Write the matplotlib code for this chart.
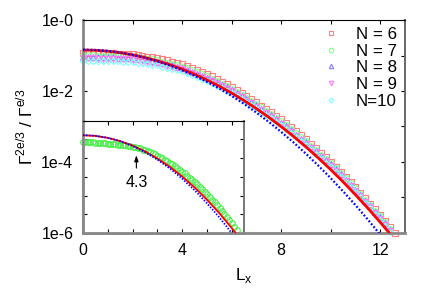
import numpy as np
import matplotlib
matplotlib.use('Agg')
import matplotlib.pyplot as plt
from matplotlib.ticker import FixedLocator, NullFormatter

plt.rcParams['font.family'] = ['Liberation Sans', 'DejaVu Sans']
plt.rcParams['mathtext.fontset'] = 'custom'
plt.rcParams['mathtext.rm'] = 'Liberation Sans'

# log10 of Gamma^{2e/3}/Gamma^{e/3}, markers every 0.2 in L_x
n6_log = [-0.92, -0.92, -0.92, -0.93, -0.93, -0.93, -0.94, -0.95, -0.95, -0.96,
          -0.97, -0.99, -1.01, -1.03, -1.05, -1.07, -1.11, -1.14, -1.18, -1.21,
          -1.25, -1.30, -1.36, -1.41, -1.47, -1.52, -1.59, -1.66, -1.74, -1.81,
          -1.88, -1.97, -2.05, -2.14, -2.22, -2.31, -2.41, -2.51, -2.60, -2.70,
          -2.80, -2.91, -3.02, -3.14, -3.25, -3.36, -3.49, -3.61, -3.74, -3.86,
          -3.99, -4.13, -4.27, -4.42, -4.56, -4.70, -4.86, -5.02, -5.17, -5.33,
          -5.49, -5.66, -5.84, -5.99]
n7_log = [-0.99, -0.99, -0.99, -1.00, -1.00, -1.00, -1.01, -1.02, -1.02, -1.03,
          -1.04, -1.05, -1.07, -1.09, -1.11, -1.13, -1.17, -1.20, -1.24, -1.27,
          -1.31, -1.36, -1.42, -1.47, -1.53, -1.58, -1.65, -1.72, -1.80, -1.87,
          -1.94, -2.02, -2.10, -2.19, -2.27, -2.36, -2.46, -2.56, -2.65, -2.75,
          -2.85, -2.96, -3.07, -3.19, -3.30, -3.41, -3.54, -3.66, -3.79, -3.91,
          -4.03, -4.17, -4.31, -4.46, -4.60, -4.74, -4.90, -5.06, -5.21, -5.37,
          -5.53, -5.70, -5.88]
n8_log = [-1.03, -1.03, -1.03, -1.04, -1.04, -1.04, -1.05, -1.06, -1.06, -1.07,
          -1.07, -1.09, -1.11, -1.13, -1.15, -1.17, -1.21, -1.24, -1.28, -1.31,
          -1.35, -1.40, -1.46, -1.51, -1.57, -1.62, -1.69, -1.76, -1.83, -1.90,
          -1.97, -2.06, -2.14, -2.23, -2.31, -2.40, -2.50, -2.60, -2.69, -2.79,
          -2.89, -3.00, -3.11, -3.23, -3.34, -3.44, -3.57, -3.69, -3.82, -3.94,
          -4.07, -4.21, -4.35, -4.50, -4.64, -4.78, -4.94, -5.10, -5.25, -5.41,
          -5.56, -5.73, -5.91]
n9_log = [-1.08, -1.08, -1.08, -1.09, -1.09, -1.09, -1.09, -1.10, -1.11, -1.11,
          -1.12, -1.14, -1.16, -1.18, -1.20, -1.22, -1.25, -1.29, -1.32, -1.36,
          -1.39, -1.45, -1.50, -1.55, -1.60, -1.66, -1.73, -1.80, -1.87, -1.94,
          -2.01, -2.10, -2.18, -2.27, -2.35, -2.44, -2.54, -2.63, -2.73, -2.83,
          -2.92, -3.04, -3.15, -3.26, -3.37, -3.48, -3.61, -3.73, -3.86, -3.98,
          -4.11, -4.25, -4.39, -4.53, -4.67, -4.81, -4.97, -5.13, -5.28, -5.44,
          -5.60, -5.77, -5.94]
n10_log = [-1.15, -1.15, -1.15, -1.15, -1.15, -1.15, -1.16, -1.16, -1.17, -1.18,
           -1.18, -1.20, -1.22, -1.24, -1.26, -1.28, -1.31, -1.34, -1.38, -1.41,
           -1.45, -1.50, -1.55, -1.61, -1.66, -1.71, -1.78, -1.85, -1.92, -1.99,
           -2.06, -2.15, -2.23, -2.32, -2.40, -2.48, -2.58, -2.68, -2.77, -2.87,
           -2.97, -3.08, -3.19, -3.30, -3.41, -3.52, -3.64, -3.77, -3.89, -4.02,
           -4.14, -4.28, -4.42, -4.56, -4.70, -4.84, -5.00, -5.15, -5.31, -5.47,
           -5.62, -5.80, -5.97]

# fitted curves, every 0.5 in L_x
red_log = [-0.845, -0.853, -0.879, -0.921, -0.980, -1.056, -1.148, -1.258, -1.384,
           -1.527, -1.688, -1.864, -2.058, -2.269, -2.496, -2.741, -3.002, -3.280,
           -3.575, -3.887, -4.215, -4.560, -4.923, -5.302, -5.698, -6.111]
blue_log = [-0.835, -0.844, -0.871, -0.916, -0.980, -1.061, -1.161, -1.278, -1.414,
            -1.568, -1.740, -1.930, -2.138, -2.364, -2.609, -2.871, -3.152, -3.450,
            -3.767, -4.102, -4.455, -4.826, -5.215, -5.622, -6.048, -6.490]

# inset: N = 7 every 0.1 in L_x, curves every 0.5
ins_green_log = [-3.58, -3.58, -3.58, -3.58, -3.58, -3.59, -3.59, -3.59, -3.60, -3.60,
                 -3.61, -3.61, -3.62, -3.63, -3.64, -3.64, -3.65, -3.66, -3.67, -3.68,
                 -3.69, -3.70, -3.72, -3.74, -3.77, -3.79, -3.82, -3.84, -3.87, -3.90,
                 -3.94, -3.97, -4.01, -4.05, -4.09, -4.13, -4.17, -4.22, -4.26, -4.31,
                 -4.36, -4.41, -4.47, -4.52, -4.58, -4.64, -4.70, -4.77, -4.83, -4.90,
                 -4.96, -5.03, -5.11, -5.18, -5.25, -5.33, -5.41, -5.49, -5.57, -5.66,
                 -5.74, -5.83, -5.92]
ins_red_log = [-3.390, -3.407, -3.459, -3.545, -3.666, -3.821, -4.011, -4.235,
               -4.494, -4.787, -5.115, -5.477, -5.874, -6.305]
ins_blue_log = [-3.385, -3.403, -3.458, -3.549, -3.677, -3.841, -4.041, -4.278,
                -4.551, -4.861, -5.208, -5.590, -6.009, -6.465]

series = [(n6_log, 's', '#ff7f7f', 'N = 6'),
          (n7_log, 'o', '#7fff7f', 'N = 7'),
          (n8_log, '^', '#7f7fff', 'N = 8'),
          (n9_log, 'v', '#ff7fff', 'N = 9'),
          (n10_log, 'D', '#7fffff', 'N=10')]

fig = plt.figure(figsize=(4.36, 3.05), dpi=100)
ax = fig.add_axes([0.1904, 0.2361, 0.7385, 0.6983])

for vals, mk, col, lab in series:
    lx = np.arange(len(vals)) * 0.2
    ms = 3.2 if mk == 'D' else 4.0
    ax.plot(lx, 10.0 ** np.array(vals), mk, mfc='none', mec=col, ms=ms, mew=0.8,
            clip_on=False, label=lab, zorder=2)

lc = np.arange(len(red_log)) * 0.5
ax.plot(lc, 10.0 ** np.array(red_log), '-', color='red', lw=2.0, zorder=3)
lb = np.arange(len(blue_log)) * 0.5
ax.plot(lb, 10.0 ** np.array(blue_log), color='blue', lw=1.6,
        linestyle=(0, (0.8, 0.9)), zorder=4)

ax.set_yscale('log')
ax.set_xlim(0, 13)
ax.set_ylim(1e-6, 1)
ax.xaxis.set_major_locator(FixedLocator([0, 4, 8, 12]))
ax.xaxis.set_minor_locator(FixedLocator([2, 6, 10]))
ax.set_xticklabels(['0', '4', '8', '12'])
ax.yaxis.set_major_locator(FixedLocator([1, 1e-2, 1e-4, 1e-6]))
ax.yaxis.set_minor_locator(FixedLocator([1e-1, 1e-3, 1e-5]))
ax.yaxis.set_minor_formatter(NullFormatter())
ax.set_yticklabels(['1e-0', '1e-2', '1e-4', '1e-6'])
ax.tick_params(which='both', direction='in', top=True, right=True,
               length=3, width=0.8, labelsize=11.5)
ax.tick_params(axis='x', pad=7)
ax.tick_params(axis='y', pad=7)

for side in ['left', 'bottom']:
    ax.spines[side].set_color('#888888')
    ax.spines[side].set_linewidth(2.0)
ax.spines['right'].set_color('#666666')
ax.spines['right'].set_linewidth(1.4)
ax.spines['top'].set_color('black')
ax.spines['top'].set_linewidth(0.8)

ax.set_xlabel(r'L$_{\mathregular{x}}$', fontsize=12.5, labelpad=6)
ax.set_ylabel(r'$\Gamma^{\mathregular{2e/3}}$ / $\Gamma^{\mathregular{e/3}}$',
              fontsize=12.5, labelpad=4)

leg = ax.legend(loc='upper right', bbox_to_anchor=(0.975, 0.967), frameon=False,
                fontsize=12.2, handlelength=1.0, handletextpad=1.0,
                labelspacing=0.1, borderpad=0, borderaxespad=0, markerscale=0.8)

# inset
axi = fig.add_axes([0.1904, 0.2361, 0.370, 0.3682])
axi.set_facecolor('white')
li = np.arange(len(ins_green_log)) * 0.1
axi.plot(li, 10.0 ** np.array(ins_green_log), 'o', mfc='none', mec='#44ee44',
         ms=4.0, mew=0.8, clip_on=False, zorder=2)
lr = np.arange(len(ins_red_log)) * 0.5
axi.plot(lr, 10.0 ** np.array(ins_red_log), '-', color='red', lw=1.3, zorder=3)
lbi = np.arange(len(ins_blue_log)) * 0.5
axi.plot(lbi, 10.0 ** np.array(ins_blue_log), color='blue', lw=1.3,
         linestyle=(0, (0.8, 0.9)), zorder=4)
axi.set_yscale('log')
axi.set_xlim(0, 6.5)
axi.set_ylim(1e-6, 1e-3)
axi.xaxis.set_major_locator(FixedLocator([0, 1, 2, 3, 4, 5, 6]))
axi.yaxis.set_major_locator(FixedLocator(10.0 ** np.arange(-6, -2.9, 0.5)))
axi.yaxis.set_minor_locator(FixedLocator([]))
axi.set_xticklabels([])
axi.set_yticklabels([])
axi.tick_params(which='both', direction='in', top=True, right=True,
                length=3, width=0.8)
for side in ['left', 'bottom']:
    axi.spines[side].set_color('#888888')
    axi.spines[side].set_linewidth(2.0)
axi.spines['right'].set_color('#777777')
axi.spines['right'].set_linewidth(1.4)
axi.spines['top'].set_color('black')
axi.spines['top'].set_linewidth(0.8)

axi.annotate('', xy=(2.15, 10 ** -3.85), xytext=(2.15, 10 ** -4.34),
             arrowprops=dict(arrowstyle='-|>,head_length=0.35,head_width=0.12',
                             color='black', lw=0.8))
axi.text(2.17, 10 ** -4.66, '4.3', ha='center', va='center', fontsize=11.5)

fig.savefig('out.png', dpi=100)
